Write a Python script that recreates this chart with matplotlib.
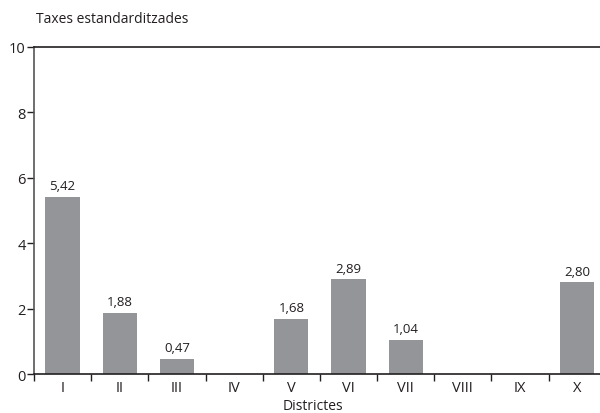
import matplotlib.pyplot as plt
import numpy as np

districtes = ['I', 'II', 'III', 'IV', 'V', 'VI', 'VII', 'VIII', 'IX', 'X']
taxes = [5.42, 1.88, 0.47, 0, 1.68, 2.89, 1.04, 0, 0, 2.80]
etiquetes = ['5,42', '1,88', '0,47', None, '1,68', '2,89', '1,04', None, None, '2,80']

plt.rcParams['font.family'] = ['Open Sans', 'DejaVu Sans']

fig = plt.figure(figsize=(6, 4.14), dpi=100)
ax = fig.add_axes([0.0567, 0.0942, 0.953, 0.7899])

x = np.arange(len(districtes))
ax.bar(x, taxes, width=0.6, color='#939598', zorder=2)
for xi, v, lab in zip(x, taxes, etiquetes):
    if lab:
        ax.text(xi, v + 0.15, lab, ha='center', va='bottom', fontsize=9.5, color='#231f20')

ax.set_xlim(-0.5, 9.5)
ax.set_ylim(0, 10)
ax.set_yticks([0, 2, 4, 6, 8, 10])
ax.set_xticks(x)
ax.set_xticklabels(districtes, fontsize=10.5, color='#231f20')
ax.set_xticks(np.arange(-0.5, 9.5, 1), minor=True)
ax.tick_params(axis='x', which='major', length=0, pad=4)
ax.tick_params(axis='x', which='minor', length=5, width=1, color='#231f20', direction='out')
ax.tick_params(axis='y', length=5, width=1, color='#231f20', labelsize=10.5, labelcolor='#231f20', pad=1)

ax.spines['right'].set_visible(False)
ax.spines['top'].set_color('#231f20')
ax.spines['bottom'].set_color('#231f20')
ax.spines['left'].set_color('#555555')
for s in ['top', 'bottom', 'left']:
    ax.spines[s].set_linewidth(1.2)

# x-axis title placed in figure coords so it stays inside the canvas
fig.text(0.522, 0.0, 'Districtes', fontsize=10, color='#231f20', ha='center', va='bottom')
fig.text(0.06, 0.952, 'Taxes estandarditzades', fontsize=10, color='#231f20', va='center')

fig.savefig('out.png', dpi=100)
